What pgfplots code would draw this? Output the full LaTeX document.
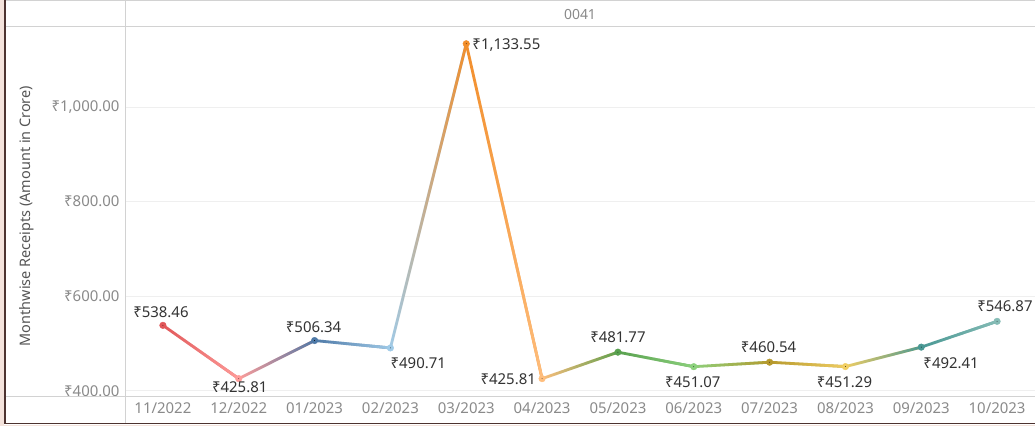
\documentclass[border=0pt]{standalone}
\usepackage{pgfplots}
\pgfplotsset{compat=1.18}
\usepackage{pgfplotstable}
\usepackage{fontspec}
\setmainfont{Noto Sans}
\usetikzlibrary{fadings}

% Tableau 20 palette, one colour per month
\definecolor{c0}{HTML}{E15759}
\definecolor{c1}{HTML}{FF9D9A}
\definecolor{c2}{HTML}{4E79A7}
\definecolor{c3}{HTML}{A0CBE8}
\definecolor{c4}{HTML}{F28E2B}
\definecolor{c5}{HTML}{FFBE7D}
\definecolor{c6}{HTML}{59A14F}
\definecolor{c7}{HTML}{8CD17D}
\definecolor{c8}{HTML}{B6992D}
\definecolor{c9}{HTML}{F1CE63}
\definecolor{c10}{HTML}{499894}
\definecolor{c11}{HTML}{86BCB6}
\definecolor{tickc}{HTML}{8A8A8A}
\definecolor{labelc}{HTML}{333333}
\definecolor{titlec}{HTML}{555555}
\definecolor{sepc}{HTML}{D2D2D2}
\definecolor{gridc}{HTML}{EFEFEF}
\definecolor{framec}{HTML}{4D3330}
\definecolor{pinkbg}{HTML}{F4E3DC}

\tikzfading[name=fadein, left color=transparent!100, right color=transparent!0]

% month index, receipts, colour class
\pgfplotstableread{
x y m
0 538.46 a
1 425.81 b
2 506.34 c
3 490.71 d
4 1133.55 e
5 425.81 f
6 481.77 g
7 451.07 h
8 460.54 i
9 451.29 j
10 492.41 k
11 546.87 l
}\receipts

% one segment: colour of the left month, faded into the colour of the right month
\newcommand\seg[2]{%
  \addplot[draw=c#1, line width=2.8bp, line cap=round, restrict x to domain=#1:#2, forget plot]
    table[x=x, y=y] {\receipts};
  \addplot[draw=c#2, line width=2.8bp, line cap=round, path fading=fadein, restrict x to domain=#1:#2, forget plot]
    table[x=x, y=y] {\receipts};
}

\begin{document}
\begin{tikzpicture}
\fill[white] (0,0) rectangle (1035bp,426bp);
\fill[pinkbg] (0,0) rectangle (4bp,426bp);
\fill[pinkbg] (0,0) rectangle (1035bp,1.5bp);
\begin{axis}[
  at={(125bp,29bp)}, anchor=south west,
  scale only axis, width=910bp, height=370bp,
  xmin=-0.5, xmax=11.5, ymin=387, ymax=1169,
  xtick={0,...,11},
  xticklabels={11/2022,12/2022,01/2023,02/2023,03/2023,04/2023,05/2023,06/2023,07/2023,08/2023,09/2023,10/2023},
  ytick={400,600,800,1000},
  yticklabel={₹\pgfmathprintnumber[fixed,fixed zerofill,precision=2,1000 sep={,},assume math mode=true]{\tick}},
  scaled y ticks=false,
  ymajorgrids, grid style={gridc, line width=0.8bp},
  axis line style={draw=none}, tick style={draw=none},
  ticklabel style={font=\fontsize{15}{17}\selectfont, text=tickc},
  xticklabel style={yshift=-2bp},
  yticklabel style={xshift=-2bp},
  clip=false,
]
\seg{0}{1}\seg{1}{2}\seg{2}{3}\seg{3}{4}\seg{4}{5}\seg{5}{6}
\seg{6}{7}\seg{7}{8}\seg{8}{9}\seg{9}{10}\seg{10}{11}
\addplot[scatter, only marks, mark=*, mark size=3.3bp,
  scatter src=explicit symbolic,
  scatter/classes={a={c0},b={c1},c={c2},d={c3},e={c4},f={c5},g={c6},h={c7},i={c8},j={c9},k={c10},l={c11}},
] table[x=x, y=y, meta=m] {\receipts};
% value labels: anchor and shift of each label
\addplot[only marks, mark=*, mark size=0.1bp, mark options={draw=none, fill=none},
  point meta=explicit,
  visualization depends on={value \thisrow{anc}\as\anc},
  visualization depends on={value \thisrow{dx}\as\dx},
  visualization depends on={value \thisrow{dy}\as\dy},
  nodes near coords={₹\pgfmathprintnumber[fixed,fixed zerofill,precision=2,1000 sep={,},assume math mode=true]{\pgfplotspointmeta}},
  every node near coord/.append style={anchor=\anc, xshift=\dx bp, yshift=\dy bp, inner sep=0pt,
    font=\fontsize{15}{17}\selectfont, text=labelc, text opacity=1},
] table[x=x, y=y, meta=y, col sep=comma] {
x,y,anc,dx,dy
0,538.46,base,-2,8
1,425.81,base,1,-14
2,506.34,base,-1,8
3,490.71,base west,0,-21
4,1133.55,base west,6,-6
5,425.81,base east,-6,-6
6,481.77,base,0,10
7,451.07,base,-1,-21
8,460.54,base,-1,10
9,451.29,base,-1,-21
10,492.41,base west,2,-21
11,546.87,base west,-20,10
};
\end{axis}
% pane separators and outer frame
\draw[sepc, line width=0.8bp] (5bp,425.5bp) -- (1035bp,425.5bp);
\draw[sepc, line width=1bp] (5bp,399.5bp) -- (1035bp,399.5bp);
\draw[sepc, line width=1bp] (5bp,29bp) -- (1035bp,29bp);
\draw[sepc, line width=1bp] (125bp,2bp) -- (125bp,426bp);
\draw[framec, line width=1.6bp] (4.8bp,426bp) -- (4.8bp,2.3bp) -- (1035bp,2.3bp);
\node[text=tickc, font=\fontsize{14}{16}\selectfont] at (580bp,411bp) {0041};
\node[text=titlec, rotate=90, font=\fontsize{14.5}{16}\selectfont] at (27bp,210bp) {Monthwise Receipts (Amount in Crore)};
\pgfresetboundingbox
\path (0,0) rectangle (1035bp,426bp);
\end{tikzpicture}
\end{document}
